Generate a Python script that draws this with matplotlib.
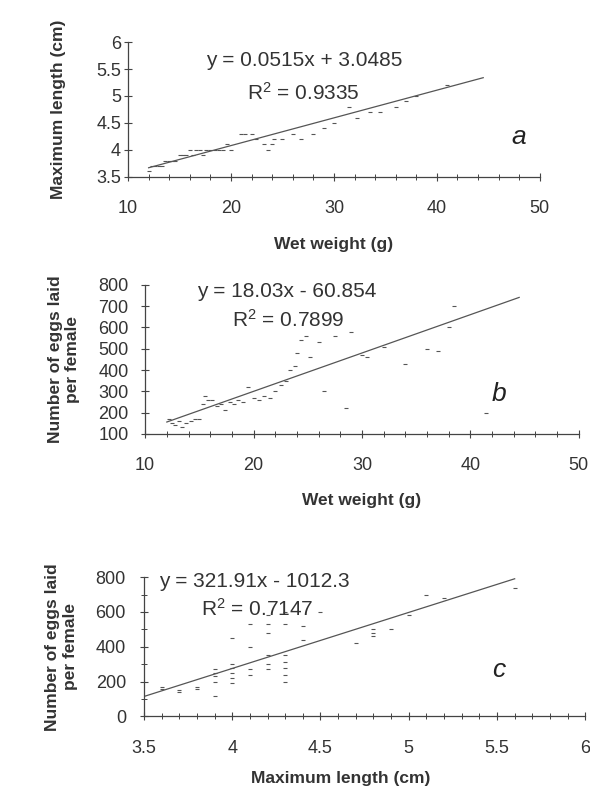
import numpy as np
import matplotlib.pyplot as plt
from matplotlib.ticker import MultipleLocator, FormatStrFormatter

plt.rcParams['font.family'] = ['Liberation Sans', 'DejaVu Sans']

# panel a: wet weight (g) vs maximum length (cm)
weight_a = [12.0, 12.3, 12.6, 13.0, 13.3, 13.6, 14.0, 14.3, 14.6, 15.0, 15.3,
            15.6, 16.0, 16.3, 16.6, 17.0, 17.3, 17.6, 18.0, 18.4, 18.8, 19.2,
            19.6, 20.0, 21.0, 21.4, 22.0, 22.4, 23.2, 23.6, 24.0, 24.2, 25.0,
            26.0, 26.8, 28.0, 29.0, 30.0, 31.5, 32.2, 33.5, 34.5, 36.0, 37.0,
            38.0, 41.0]
length_a = [3.6, 3.7, 3.7, 3.7, 3.7, 3.8, 3.8, 3.8, 3.8, 3.9, 3.9,
            3.9, 4.0, 3.9, 4.0, 4.0, 3.9, 4.0, 4.0, 4.0, 4.0, 4.0,
            4.1, 4.0, 4.3, 4.3, 4.3, 4.2, 4.1, 4.0, 4.1, 4.2, 4.2,
            4.3, 4.2, 4.3, 4.4, 4.5, 4.8, 4.6, 4.7, 4.7, 4.8, 4.9,
            5.0, 5.2]

# panel b: wet weight (g) vs number of eggs
weight_b = [12.2, 12.5, 12.8, 13.1, 13.4, 13.8, 14.2, 14.6, 15.0, 15.3, 15.5,
            15.8, 16.2, 16.6, 17.0, 17.4, 17.8, 18.2, 18.6, 19.0, 19.5, 20.0,
            20.5, 21.0, 21.5, 22.0, 22.5, 23.0, 23.4, 23.8, 24.0, 24.4, 24.8,
            25.2, 26.0, 26.5, 27.5, 28.5, 29.0, 30.0, 30.5, 32.0, 34.0, 36.0,
            37.0, 38.0, 38.5, 41.4]
eggs_b = [170, 150, 140, 160, 130, 150, 160, 170, 170, 240, 280,
          260, 260, 230, 240, 210, 250, 240, 260, 250, 320, 270,
          260, 280, 270, 300, 330, 350, 400, 420, 480, 540, 560,
          460, 530, 300, 560, 220, 580, 470, 460, 510, 430, 500,
          490, 600, 700, 200]

# panel c: maximum length (cm) vs number of eggs
length_c = [3.6, 3.6, 3.7, 3.7, 3.8, 3.8, 3.9, 3.9, 3.9, 3.9, 3.9, 4.0, 4.0,
            4.0, 4.0, 4.0, 4.0, 4.1, 4.1, 4.1, 4.1, 4.2, 4.2, 4.2, 4.2, 4.2,
            4.2, 4.3, 4.3, 4.3, 4.3, 4.3, 4.3, 4.3, 4.4, 4.4, 4.5, 4.7, 4.8,
            4.8, 4.8, 4.9, 5.0, 5.1, 5.2, 5.6]
eggs_c = [170, 160, 150, 140, 170, 160, 120, 200, 230, 250, 270, 190, 220,
          250, 280, 300, 450, 240, 270, 400, 530, 270, 300, 350, 480, 530,
          580, 200, 240, 280, 310, 350, 530, 600, 440, 520, 600, 420, 460,
          480, 500, 500, 580, 700, 680, 740]

fits = [(0.0515, 3.0485, 12.0, 44.5), (18.03, -60.854, 12.0, 44.5),
        (321.91, -1012.3, 3.5, 5.6)]

grey = '#333333'
fig = plt.figure(figsize=(5.9, 7.96), dpi=100)
ax1 = fig.add_axes([0.217, 0.778, 0.698, 0.169])
ax2 = fig.add_axes([0.246, 0.455, 0.735, 0.187])
ax3 = fig.add_axes([0.244, 0.100, 0.748, 0.175])

panels = [
    (ax1, weight_a, length_a, (10, 50), (3.5, 6), 10, 2, 0.5, None,
     'Wet weight (g)', 'Maximum length (cm)',
     'y = 0.0515x + 3.0485', '$\\mathregular{R^2}$ = 0.9335', 'a'),
    (ax2, weight_b, eggs_b, (10, 50), (100, 800), 10, 2, 100, None,
     'Wet weight (g)', 'Number of eggs laid\nper female',
     'y = 18.03x - 60.854', '$\\mathregular{R^2}$ = 0.7899', 'b'),
    (ax3, length_c, eggs_c, (3.5, 6), (0, 800), 0.5, 0.1, 200, 100,
     'Maximum length (cm)', 'Number of eggs laid\nper female',
     'y = 321.91x - 1012.3', '$\\mathregular{R^2}$ = 0.7147', 'c'),
]
# text placement per panel (axes fraction)
eq_pos = [(0.19, 0.82), (0.12, 0.92), (0.035, 0.93)]
r2_pos = [(0.29, 0.57), (0.20, 0.72), (0.13, 0.72)]
letter_pos = [(0.93, 0.24), (0.80, 0.22), (0.79, 0.28)]
ylab_x = [-0.15, -0.15, -0.15]
xlab_xy = [(0.5, -0.45), (0.5, -0.40), (0.445, -0.39)]
ytick_pad = [2, 9, 10]

for i, (ax, xs, ys, xl, yl, xmaj, xmin, ymaj, ymin, xlab, ylab, eq, r2, letter) in enumerate(panels):
    ax.scatter(xs, ys, marker='_', s=12, color='#555555', linewidths=0.8, clip_on=False)
    slope, icpt, x0, x1 = fits[i]
    lx = np.array([x0, x1])
    ax.plot(lx, slope * lx + icpt, color='#555555', lw=0.9)
    ax.set_xlim(*xl)
    ax.set_ylim(*yl)
    ax.xaxis.set_major_locator(MultipleLocator(xmaj))
    ax.xaxis.set_minor_locator(MultipleLocator(xmin))
    ax.yaxis.set_major_locator(MultipleLocator(ymaj))
    ax.xaxis.set_major_formatter(FormatStrFormatter('%g'))
    ax.yaxis.set_major_formatter(FormatStrFormatter('%g'))
    if ymin:
        ax.yaxis.set_minor_locator(MultipleLocator(ymin))
    for s in ['top', 'right']:
        ax.spines[s].set_visible(False)
    for s in ['left', 'bottom']:
        ax.spines[s].set_color('#444444')
        ax.spines[s].set_linewidth(0.9)
    ax.tick_params(which='major', direction='inout', length=6, width=0.8,
                   colors='#444444', labelcolor=grey, labelsize=13)
    ax.tick_params(which='minor', direction='inout', length=4, width=0.7,
                   colors='#444444')
    ax.tick_params(axis='x', which='major', pad=14)
    ax.tick_params(axis='y', which='major', pad=ytick_pad[i])
    ax.set_xlabel(xlab, fontsize=12.5, fontweight='bold', color=grey)
    ax.set_ylabel(ylab, fontsize=12.5, fontweight='bold', color=grey)
    ax.xaxis.set_label_coords(*xlab_xy[i])
    ax.yaxis.set_label_coords(ylab_x[i], 0.5)
    ax.text(*eq_pos[i], eq, transform=ax.transAxes, fontsize=15, color=grey)
    ax.text(*r2_pos[i], r2, transform=ax.transAxes, fontsize=15, color=grey)
    ax.text(*letter_pos[i], letter, transform=ax.transAxes,
            fontsize=19, fontstyle='italic', color='#222222')

fig.savefig('out.png', dpi=100)
